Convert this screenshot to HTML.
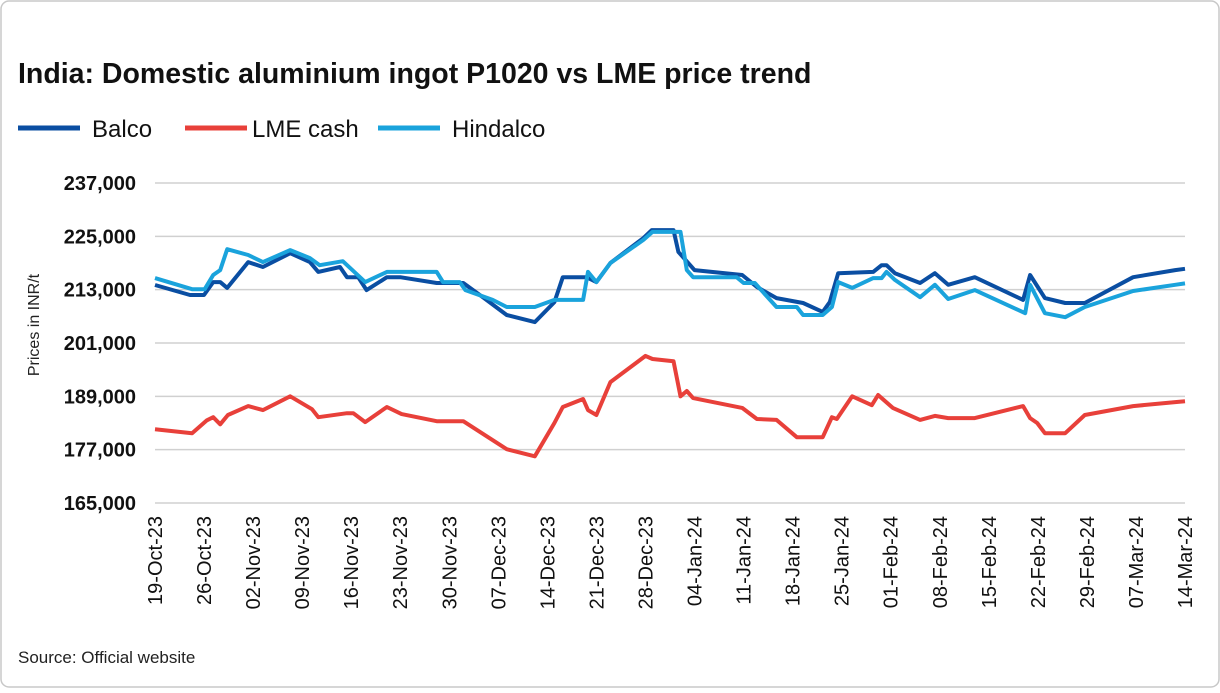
<!DOCTYPE html>
<html><head><meta charset="utf-8"><style>
body{margin:0;background:#fff;font-family:"Liberation Sans",sans-serif}
#wrap{position:relative;width:1220px;height:688px}
</style></head><body>
<div id="wrap">
<svg id="chart" width="1220" height="688" font-family="Liberation Sans, sans-serif">
<rect x="1" y="1" width="1218" height="686" rx="8" fill="#fff" stroke="#c8c8c8" stroke-width="1.5"/>
<text x="18" y="83" font-size="28.5" font-weight="bold" fill="#111">India: Domestic aluminium ingot P1020 vs LME price trend</text>
<g>
<g><line x1="18" y1="128" x2="80" y2="128" stroke="#0a4ea2" stroke-width="5"/><text x="92" y="137" font-size="24" fill="#111">Balco</text></g>
<g><line x1="185" y1="128" x2="247" y2="128" stroke="#e8403a" stroke-width="5"/><text x="252" y="137" font-size="24" fill="#111">LME cash</text></g>
<g><line x1="378" y1="128" x2="440" y2="128" stroke="#1aa3dc" stroke-width="5"/><text x="452" y="137" font-size="24" fill="#111">Hindalco</text></g>
</g>
<text transform="translate(39,325) rotate(-90)" text-anchor="middle" font-size="16" fill="#222">Prices in INR/t</text>
<text x="18" y="663" font-size="17" fill="#222">Source: Official website</text>
<g id="grid"></g><g id="series"></g><g id="xlabels"></g>
</svg>
</div>
<script>
const yTicks=[165000,177000,189000,201000,213000,225000,237000];
const xTickLabels=["19-Oct-23","26-Oct-23","02-Nov-23","09-Nov-23","16-Nov-23","23-Nov-23","30-Nov-23","07-Dec-23","14-Dec-23","21-Dec-23","28-Dec-23","04-Jan-24","11-Jan-24","18-Jan-24","25-Jan-24","01-Feb-24","08-Feb-24","15-Feb-24","22-Feb-24","29-Feb-24","07-Mar-24","14-Mar-24"];
const balcoDays=[0,5,7,8.3,9.3,10.3,13.3,15.4,19.3,22.1,23.3,26.4,27.4,29,30.2,33.1,35,40.2,44,46.8,50.2,54.2,57,58.2,61.6,63,65,69.7,70.9,74,74.7,77,83.8,85.9,88.7,92.5,95.3,96.3,97.5,102.5,103.7,104.4,105.6,109.2,111.3,113.2,117,123.9,124.9,127,129.9,132.7,139.6,145.6,147];
const balcoVals=[214050,211800,211800,214700,214700,213400,219200,218100,221200,219200,217000,218100,215800,215800,212900,215800,215800,214500,214500,211300,207300,205700,210200,215800,215800,214700,219000,224600,226400,226400,221500,217400,216300,213600,211100,210000,208000,210200,216700,217000,218500,218500,216700,214500,216700,214100,215800,210700,216300,211100,210000,210000,215800,217400,217700];
const hindDays=[0,5.3,7.1,8.3,9.3,10.3,13.3,15.4,19.3,22.1,23.5,26.8,30,33.1,40.2,41.1,43.5,44.3,48.2,50.2,54.2,57,61.1,61.8,63,65,69.7,71,75,75.9,76.8,83,84,85.6,88.7,91.6,92.5,95.3,96.6,97.5,99.5,102.5,103.7,104.4,105.6,109.2,111.3,113.2,117,124.2,124.9,127,129.9,132.7,139.6,145.6,147];
const hindVals=[215600,213100,213100,216300,217400,222100,220800,219200,221900,220100,218500,219400,214700,217000,217000,214700,214700,212900,210700,209100,209100,210700,210700,217000,214700,219000,224200,226000,226000,217400,215800,215800,214500,214500,209100,209100,207300,207300,209100,214700,213400,215600,215600,217000,215200,211300,214100,210900,212900,207700,214100,207700,206800,209100,212700,214100,214400];
const lmeDays=[0,5.3,7.4,8.3,9.3,10.4,13.3,15.4,19.3,22.4,23.3,27.4,28.3,30,33.1,35.2,40.2,44,50.2,54.2,57,58.2,61.1,61.8,63,65,70,71,74,75,75.9,76.8,83.8,85.9,88.7,91.6,95.3,96.6,97.3,99.5,102.3,103.2,105.3,109.2,111.3,113.2,117,123.9,124.9,125.9,127,129.9,132.7,139.6,145.6,147];
const lmeVals=[181600,180700,183600,184300,182700,184800,186800,185900,189000,186100,184300,185200,185200,183200,186600,185000,183400,183400,177100,175500,183000,186600,188400,185900,184800,192200,198100,197400,196900,189000,190200,188600,186400,183900,183700,179800,179800,184300,183900,189000,187000,189300,186400,183700,184600,184100,184100,186800,184100,183000,180700,180700,184800,186800,187700,187900];
const X0=155,X1=1185,Y0=503,Y1=183,DMAX=147;
const xs=d=>X0+(X1-X0)*d/DMAX;
const ys=v=>Y0-(Y0-Y1)*(v-165000)/(237000-165000);
const NS="http://www.w3.org/2000/svg";
const grid=document.getElementById('grid');
yTicks.forEach(t=>{
 const l=document.createElementNS(NS,'line');
 l.setAttribute('x1',X0);l.setAttribute('x2',X1);l.setAttribute('y1',ys(t));l.setAttribute('y2',ys(t));
 l.setAttribute('stroke','#d0d0d0');l.setAttribute('stroke-width',1.5);
 
 
 grid.appendChild(l);
 const tx=document.createElementNS(NS,'text');
 tx.setAttribute('x',136);tx.setAttribute('y',ys(t)+7);tx.setAttribute('text-anchor','end');
 tx.setAttribute('font-size','20');tx.setAttribute('font-weight','bold');tx.setAttribute('fill','#111');
 tx.textContent=t.toLocaleString('en-US');
 
 
 grid.appendChild(tx);
});
const xl=document.getElementById('xlabels');
xTickLabels.forEach((s,i)=>{
 const x=xs(i*7);
 const tx=document.createElementNS(NS,'text');
 tx.setAttribute('transform',`translate(${x+7},516) rotate(-90)`);
 tx.setAttribute('text-anchor','end');tx.setAttribute('font-size','20');tx.setAttribute('fill','#111');
 tx.textContent=s;
 
 
 xl.appendChild(tx);
});
const sg=document.getElementById('series');
function draw(days,vals,color,name){
 const p=document.createElementNS(NS,'polyline');
 p.setAttribute('points',days.map((d,i)=>xs(d).toFixed(1)+','+ys(vals[i]).toFixed(1)).join(' '));
 p.setAttribute('fill','none');p.setAttribute('stroke',color);p.setAttribute('stroke-width','4');
 p.setAttribute('stroke-linejoin','round');
 
 
 sg.appendChild(p);
}
draw(lmeDays,lmeVals,'#e8403a','lme-cash-line');
draw(balcoDays,balcoVals,'#0a4ea2','balco-line');
draw(hindDays,hindVals,'#1aa3dc','hindalco-line');
</script>
</body></html>
